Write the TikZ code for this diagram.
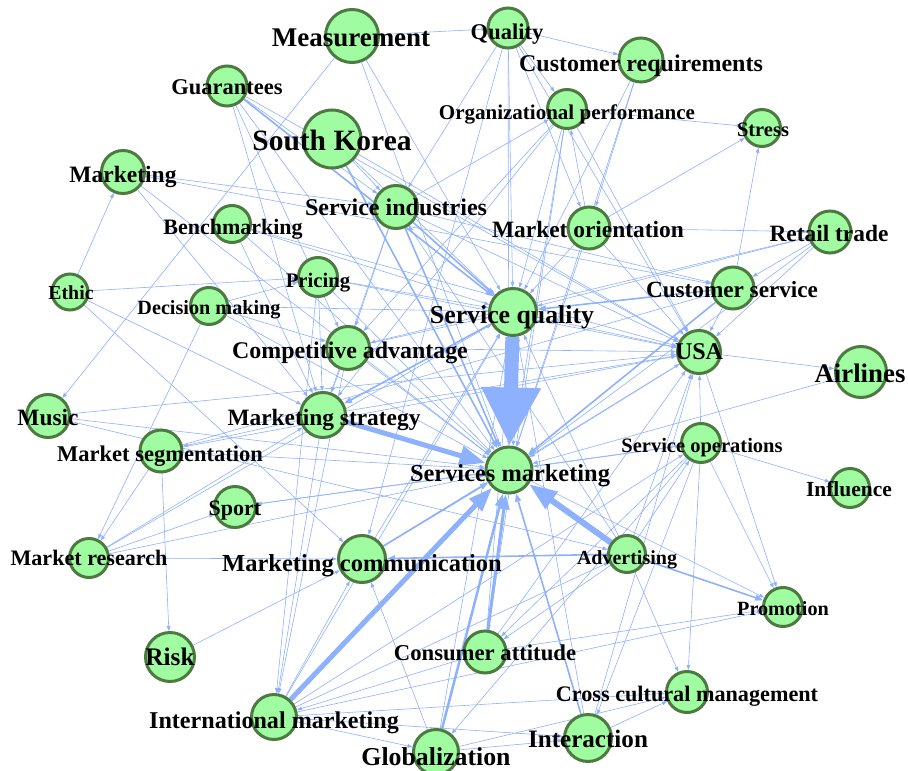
\documentclass[tikz,border=0pt]{standalone}
\usepackage{fontspec}
\setmainfont{Liberation Serif}
\usetikzlibrary{arrows.meta}
\pgfdeclarelayer{bg}
\pgfsetlayers{bg,main}
\definecolor{edgec}{RGB}{141,176,255}
\definecolor{nodefill}{RGB}{160,252,160}
\definecolor{nodeline}{RGB}{76,122,64}
\newcommand\fsz[1]{\fontsize{#1}{#1}\selectfont\bfseries}
\begin{document}
\begin{tikzpicture}[x=1pt,y=-1pt,
  vtx/.style={circle,draw=nodeline,fill=nodefill,line width=3pt,inner sep=0pt},
  lbl/.style={inner sep=0pt,text=black,anchor=base},
  e/.style={draw=edgec,line width=0.6pt,-{Triangle[length=5pt,width=3.6pt]}},
  em/.style={draw=edgec,line width=1.6pt,-{Triangle[length=8pt,width=6pt]}},
  eth/.style={draw=edgec,line width=#1}
]
\useasboundingbox (0,0) rectangle (908,771);

% vertices
\node[vtx,minimum size=53pt] (meas) at (352,36) {};
\node[vtx,minimum size=40pt] (qual) at (508,28) {};
\node[vtx,minimum size=44pt] (creq) at (641,60) {};
\node[vtx,minimum size=40pt] (guar) at (227,86) {};
\node[vtx,minimum size=58pt] (skor) at (332,139) {};
\node[vtx,minimum size=39pt] (orgp) at (567,109) {};
\node[vtx,minimum size=37pt] (stre) at (762,128) {};
\node[vtx,minimum size=43pt] (mkt) at (123,172) {};
\node[vtx,minimum size=43pt] (sind) at (396,207) {};
\node[vtx,minimum size=37pt] (bench) at (232,224) {};
\node[vtx,minimum size=42pt] (mori) at (589,228) {};
\node[vtx,minimum size=42pt] (retl) at (830,232) {};
\node[vtx,minimum size=36pt] (ethic) at (70,292) {};
\node[vtx,minimum size=37pt] (dec) at (209,306) {};
\node[vtx,minimum size=39pt] (pric) at (318,277) {};
\node[vtx,minimum size=42pt] (csrv) at (733,288) {};
\node[vtx,minimum size=47pt] (sq) at (513,312) {};
\node[vtx,minimum size=43pt] (cadv) at (348,348) {};
\node[vtx,minimum size=43pt] (usa) at (699,352) {};
\node[vtx,minimum size=51pt] (air) at (861,372) {};
\node[vtx,minimum size=43pt] (music) at (48,416) {};
\node[vtx,minimum size=45pt] (mstr) at (323,415) {};
\node[vtx,minimum size=42pt] (mseg) at (161,451) {};
\node[vtx,minimum size=39pt] (sops) at (701,443) {};
\node[vtx,minimum size=46pt] (sm) at (509,470) {};
\node[vtx,minimum size=39pt] (infl) at (850,488) {};
\node[vtx,minimum size=41pt] (sport) at (235,507) {};
\node[vtx,minimum size=39pt] (mres) at (89,558) {};
\node[vtx,minimum size=47pt] (mcom) at (362,559) {};
\node[vtx,minimum size=37pt] (adv) at (627,554) {};
\node[vtx,minimum size=39pt] (prom) at (783,607) {};
\node[vtx,minimum size=49pt] (risk) at (170,657) {};
\node[vtx,minimum size=42pt] (catt) at (485,652) {};
\node[vtx,minimum size=41pt] (ccm) at (687,692) {};
\node[vtx,minimum size=45pt] (intm) at (274,717) {};
\node[vtx,minimum size=45pt] (glob) at (436,752) {};
\node[vtx,minimum size=47pt] (inter) at (588,738) {};

% edges
\begin{pgfonlayer}{bg}
\foreach \a/\b in {meas/qual, meas/music, meas/sq, meas/sm,
 qual/creq, qual/orgp, qual/sind, qual/mcom, qual/mori, qual/sq, qual/sm, qual/usa,
 creq/mori, creq/sq, creq/sm,
 orgp/stre, mori/orgp, orgp/cadv, orgp/mstr, orgp/sq, orgp/sm, orgp/usa, orgp/catt,
 mori/stre, csrv/stre,
 mori/retl, mori/sq, mori/sm, mori/usa,
 retl/csrv, retl/sq, retl/usa, retl/sm, retl/cadv,
 guar/sind, guar/mstr, guar/cadv, guar/sm, guar/usa,
 skor/sind, skor/sq, skor/usa,
 mkt/sind, mkt/mstr, mkt/csrv, mkt/sm,
 ethic/mkt, ethic/pric, ethic/mstr, ethic/mcom,
 bench/sq, bench/sm, bench/usa, bench/mstr,
 dec/pric, dec/mres, dec/sm, dec/cadv, dec/sq,
 pric/sq, pric/sm, pric/usa, pric/mstr, pric/intm,
 cadv/sq, cadv/sm, cadv/usa, cadv/mstr, cadv/intm,
 sind/mstr, sind/cadv, sind/csrv, sind/usa, sind/orgp,
 music/sm, music/adv, music/usa,
 mstr/mseg, mstr/intm, mstr/usa,
 mseg/risk, mseg/mres, mseg/csrv, mseg/usa, mseg/sm,
 sm/sport, mres/sport, sport/sops,
 mres/mcom, mres/sq, mres/sm, mres/mstr,
 risk/mcom,
 adv/ccm, adv/catt, adv/sind, adv/sops, adv/sq, adv/usa,
 sops/infl, sops/prom, sops/ccm, sops/catt, sops/inter, sops/glob, sops/sm, sops/usa,
 air/sm, usa/air, usa/sm, usa/prom, sm/prom,
 catt/prom, catt/sq, catt/usa, catt/intm,
 intm/mcom, intm/glob, intm/inter, intm/adv, intm/prom, intm/sops, intm/ccm, intm/sq,
 glob/inter, glob/ccm, glob/mcom, glob/sq,
 inter/ccm, inter/sq, inter/usa,
 mcom/sq, mcom/usa, sq/usa, csrv/usa}
 \draw[e] (\a) -- (\b);
\foreach \a/\b in {guar/sq, csrv/sq, sind/sq, sind/sm, skor/sm, csrv/sm, mcom/sm,
 inter/sm, adv/prom, adv/mcom, sq/mstr}
 \draw[em] (\a) -- (\b);
\draw[eth=14pt,-{Triangle[length=58pt,width=56pt]}] (sq) -- (sm);
\draw[eth=5pt,-{Triangle[length=26pt,width=19pt]}] (mstr) -- (sm);
\draw[eth=5pt,-{Triangle[length=24pt,width=17pt]}] (intm) -- (sm);
\draw[eth=6pt,-{Triangle[length=28pt,width=20pt]}] (adv) -- (sm);
\draw[eth=3pt,-{Triangle[length=15pt,width=11pt]}] (catt) -- (sm);
\draw[eth=2.5pt,-{Triangle[length=13pt,width=9pt]}] (glob) -- (sm);
\end{pgfonlayer}

% labels
\node[lbl,font=\fsz{27}] (meas-l) at (351,46) {Measurement};
\node[lbl,font=\fsz{22.5}] (qual-l) at (507,39) {Quality};
\node[lbl,font=\fsz{24}] (creq-l) at (641,71) {Customer requirements};
\node[lbl,font=\fsz{21}] (orgp-l) at (567,119) {Organizational performance};
\node[lbl,font=\fsz{20.5}] (stre-l) at (763,136) {Stress};
\node[lbl,font=\fsz{22.5}] (guar-l) at (227,94) {Guarantees};
\node[lbl,font=\fsz{29.5}] (skor-l) at (332,150) {South Korea};
\node[lbl,font=\fsz{23.5}] (mkt-l) at (123,182) {Marketing};
\node[lbl,font=\fsz{24}] (sind-l) at (396,215) {Service industries};
\node[lbl,font=\fsz{22}] (bench-l) at (233,234) {Benchmarking};
\node[lbl,font=\fsz{23.4}] (mori-l) at (588,237) {Market orientation};
\node[lbl,font=\fsz{23.4}] (retl-l) at (829,241) {Retail trade};
\node[lbl,font=\fsz{19.8}] (ethic-l) at (71,299) {Ethic};
\node[lbl,font=\fsz{20.2}] (dec-l) at (209,314) {Decision making};
\node[lbl,font=\fsz{20.7}] (pric-l) at (318,287) {Pricing};
\node[lbl,font=\fsz{23.2}] (csrv-l) at (732,297) {Customer service};
\node[lbl,font=\fsz{25.8}] (sq-l) at (512,323) {Service quality};
\node[lbl,font=\fsz{23.9}] (cadv-l) at (350,358) {Competitive advantage};
\node[lbl,font=\fsz{24}] (usa-l) at (699,359) {USA};
\node[lbl,font=\fsz{26.8}] (air-l) at (860,382) {Airlines};
\node[lbl,font=\fsz{23.4}] (music-l) at (48,425) {Music};
\node[lbl,font=\fsz{23.4}] (mstr-l) at (324,425) {Marketing strategy};
\node[lbl,font=\fsz{22.5}] (mseg-l) at (160,461) {Market segmentation};
\node[lbl,font=\fsz{20.5}] (sops-l) at (702,452) {Service operations};
\node[lbl,font=\fsz{24.4}] (sm-l) at (510,481) {Services marketing};
\node[lbl,font=\fsz{21.5}] (infl-l) at (849,496) {Influence};
\node[lbl,font=\fsz{22}] (sport-l) at (235,515) {Sport};
\node[lbl,font=\fsz{22.1}] (mres-l) at (89,565) {Market research};
\node[lbl,font=\fsz{24.5}] (mcom-l) at (362,571) {Marketing communication};
\node[lbl,font=\fsz{20}] (adv-l) at (627,564) {Advertising};
\node[lbl,font=\fsz{20.2}] (prom-l) at (783,615) {Promotion};
\node[lbl,font=\fsz{25.3}] (risk-l) at (170,665) {Risk};
\node[lbl,font=\fsz{22.7}] (catt-l) at (485,660) {Consumer attitude};
\node[lbl,font=\fsz{22.2}] (ccm-l) at (687,701) {Cross cultural management};
\node[lbl,font=\fsz{24.1}] (intm-l) at (274,728) {International marketing};
\node[lbl,font=\fsz{25.8}] (glob-l) at (436,765) {Globalization};
\node[lbl,font=\fsz{25.1}] (inter-l) at (588,747) {Interaction};
\end{tikzpicture}
\end{document}
